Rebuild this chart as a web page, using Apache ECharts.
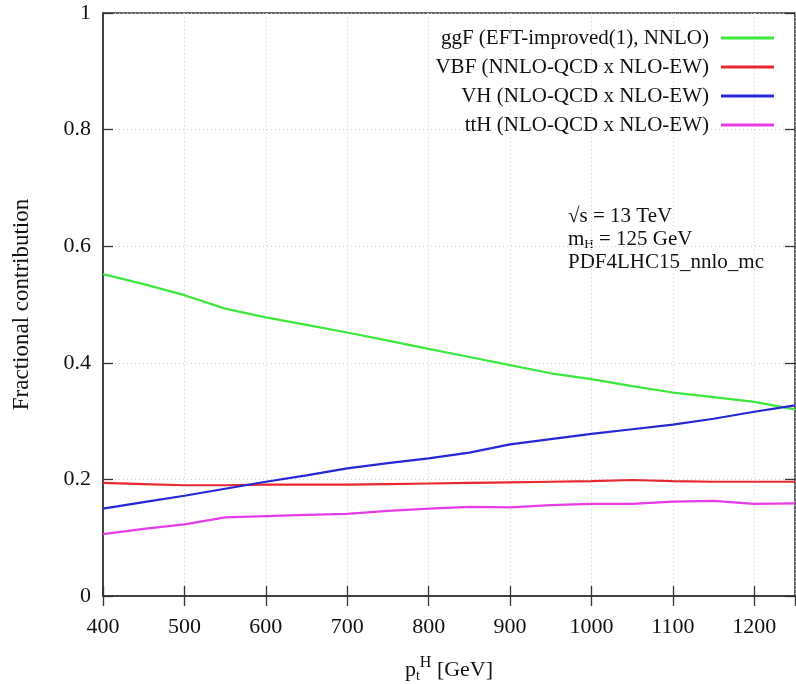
<!DOCTYPE html>
<html>
<head>
<meta charset="utf-8">
<script src="https://cdn.jsdelivr.net/npm/echarts@6/dist/echarts.min.js"></script>
<style>html,body{margin:0;padding:0;background:#fff}#c{width:796px;height:684px}</style>
</head>
<body>
<div id="c"></div>
<script>
const ptValues = [400, 450, 500, 550, 600, 650, 700, 750, 800, 850, 900, 950, 1000, 1050, 1100, 1150, 1200, 1250];
const ggF = [0.552, 0.535, 0.516, 0.493, 0.478, 0.465, 0.452, 0.438, 0.424, 0.410, 0.396, 0.382, 0.372, 0.360, 0.349, 0.341, 0.333, 0.320];
const VBF = [0.194, 0.192, 0.190, 0.190, 0.191, 0.191, 0.191, 0.192, 0.193, 0.194, 0.195, 0.196, 0.197, 0.199, 0.197, 0.196, 0.196, 0.196];
const VH  = [0.150, 0.161, 0.172, 0.184, 0.196, 0.207, 0.219, 0.228, 0.236, 0.246, 0.260, 0.269, 0.278, 0.286, 0.294, 0.304, 0.316, 0.327];
const ttH = [0.106, 0.115, 0.123, 0.135, 0.137, 0.139, 0.141, 0.146, 0.150, 0.153, 0.152, 0.156, 0.158, 0.158, 0.162, 0.163, 0.158, 0.159];
const seriesNames = ['ggF (EFT-improved(1), NNLO)', 'VBF (NNLO-QCD x NLO-EW)', 'VH (NLO-QCD x NLO-EW)', 'ttH (NLO-QCD x NLO-EW)'];
const seriesColors = ['#3be83b', '#e8282e', '#2626d6', '#e63be6'];
const yTicks = [0, 0.2, 0.4, 0.6, 0.8, 1];
const xTicks = [400, 500, 600, 700, 800, 900, 1000, 1100, 1200];

const FONT = '"Liberation Serif", "DejaVu Serif", serif';
const pair = (arr) => ptValues.map((x, i) => [x, arr[i]]);
const allData = [ggF, VBF, VH, ttH];

const chart = echarts.init(document.getElementById('c'), null, {renderer: 'canvas'});
const tickStyle = {inside: true, length: 10, lineStyle: {color: '#333', width: 1.3}};
const split = {show: true, lineStyle: {color: '#cfcfcf', type: [1, 3], width: 1}};
chart.setOption({
  animation: false,
  backgroundColor: '#fff',
  grid: {left: 103, right: 1, top: 13, bottom: 88, show: true, borderColor: '#333', borderWidth: 1.5,
    backgroundColor: 'transparent', containLabel: false, outerBoundsMode: 'none'},
  legend: {
    orient: 'vertical', align: 'right', right: 17, top: 22,
    itemWidth: 53, itemHeight: 3, itemGap: 7, icon: 'rect',
    data: seriesNames,
    textStyle: {fontFamily: FONT, fontSize: 21, color: '#111', lineHeight: 22, padding: [0, 7, 0, 0]}
  },
  xAxis: [{
    type: 'value', min: 400, max: 1250, interval: 100,
    axisLine: {show: true, lineStyle: {color: '#333', width: 1.5}},
    axisTick: tickStyle, splitLine: split,
    axisLabel: {fontFamily: FONT, fontSize: 22, color: '#111', margin: 20, showMaxLabel: false,
      formatter: (v) => { const t = xTicks.find(x => Math.abs(x - v) < 1e-6); return t === undefined ? '' : String(t); }},
    name: '{m|p}{sub|t}{sup|H}{m| [GeV]}', nameLocation: 'middle', nameGap: 59,
    nameTextStyle: {rich: {
      m: {fontFamily: FONT, fontSize: 22, color: '#111', lineHeight: 30, verticalAlign: 'middle'},
      sub: {fontFamily: FONT, fontSize: 14, color: '#111', lineHeight: 30, verticalAlign: 'bottom', padding: [0, 0, 2, 0]},
      sup: {fontFamily: FONT, fontSize: 16, color: '#111', lineHeight: 30, verticalAlign: 'top', padding: [0, 0, 0, 0]}
    }}
  }, {
    type: 'value', min: 400, max: 1250, interval: 100, position: 'top',
    axisLine: {show: false}, axisTick: tickStyle, axisLabel: {show: false}, splitLine: {show: false}
  }],
  yAxis: [{
    type: 'value', min: 0, max: 1, interval: 0.2,
    axisLine: {show: true, lineStyle: {color: '#333', width: 1.5}},
    axisTick: tickStyle, splitLine: split,
    axisLabel: {fontFamily: FONT, fontSize: 22, color: '#111', margin: 12,
      formatter: (v) => { const t = yTicks.find(y => Math.abs(y - v) < 1e-9); return t === undefined ? '' : String(t); }},
    name: 'Fractional contribution', nameLocation: 'middle', nameGap: 70, nameRotate: 90,
    nameTextStyle: {fontFamily: FONT, fontSize: 23, color: '#111'}
  }, {
    type: 'value', min: 0, max: 1, interval: 0.2, position: 'right',
    axisLine: {show: false}, axisTick: tickStyle, axisLabel: {show: false}, splitLine: {show: false}
  }],
  graphic: [{
    type: 'text', left: 568, top: 206,
    style: {
      text: '{m|√s = 13 TeV}\n{m|m}{sub|H}{m| = 125 GeV}\n{m|PDF4LHC15_nnlo_mc}',
      rich: {
        m: {fontFamily: FONT, fontSize: 21, fill: '#111', lineHeight: 23, verticalAlign: 'middle'},
        sub: {fontFamily: FONT, fontSize: 13, fill: '#111', lineHeight: 23, verticalAlign: 'bottom'}
      }
    }
  }],
  series: allData.map((arr, i) => ({
    name: seriesNames[i], type: 'line', data: pair(arr),
    showSymbol: false, symbol: 'none', smooth: false,
    lineStyle: {color: seriesColors[i], width: 2.2},
    itemStyle: {color: seriesColors[i]}
  }))
});
</script>
</body>
</html>
